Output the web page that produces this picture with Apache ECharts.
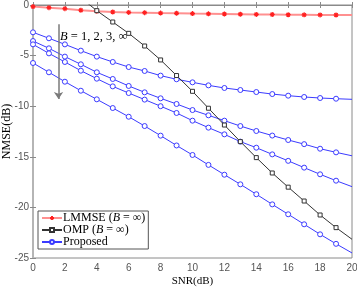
<!DOCTYPE html>
<html>
<head>
<meta charset="utf-8">
<script src="https://cdn.jsdelivr.net/npm/echarts@6/dist/echarts.min.js"></script>
<style>html,body{margin:0;padding:0;background:#fff}#c{width:357px;height:290px}</style>
</head>
<body>
<div id="c"></div>
<script>
// SNR (dB)
const snr = [0,1,2,3,4,5,6,7,8,9,10,11,12,13,14,15,16,17,18,19,20];
const xTicks = [0,2,4,6,8,10,12,14,16,18,20];
const yTicks = [0,-5,-10,-15,-20,-25];
// LMMSE (B = inf)
const lmmse = [-0.16,-0.26,-0.36,-0.52,-0.62,-0.69,-0.73,-0.76,-0.8,-0.82,-0.85,-0.87,-0.89,-0.91,-0.93,-0.94,-0.96,-0.97,-0.98,-0.99,-1.0];
// OMP (B = inf)
const omp = [4.2,3.0,1.8,0.72,-0.56,-1.68,-2.8,-4.05,-5.43,-6.97,-8.53,-10.2,-11.86,-13.5,-15.08,-16.6,-18.0,-19.37,-20.75,-22.0,-23.15];
// Proposed, B = 1, 2, 3, inf
const propB1 = [-2.7,-3.29,-3.89,-4.51,-5.1,-5.63,-6.13,-6.52,-6.98,-7.34,-7.64,-7.94,-8.2,-8.4,-8.6,-8.8,-8.96,-9.09,-9.19,-9.26,-9.32];
const propB2 = [-3.56,-4.28,-5.1,-5.86,-6.65,-7.31,-8.0,-8.63,-9.22,-9.78,-10.38,-10.9,-11.43,-11.96,-12.45,-12.9,-13.34,-13.75,-14.2,-14.56,-14.9];
const propB3 = [-3.89,-4.78,-5.63,-6.49,-7.28,-8.04,-8.7,-9.35,-10.0,-10.67,-11.43,-12.12,-12.78,-13.5,-14.1,-14.76,-15.4,-16.07,-16.73,-17.36,-17.95];
const propBinf = [-5.73,-6.65,-7.58,-8.47,-9.32,-10.18,-11.04,-11.96,-12.91,-13.88,-14.82,-15.8,-16.77,-17.72,-18.7,-19.7,-20.68,-21.67,-22.66,-23.6,-24.5];

function pts(vals){
  return snr.map((x,i)=> i===snr.length-1 ? {value:[x,vals[i]], symbol:'none'} : [x,vals[i]]);
}
const serif = '"Liberation Serif","DejaVu Serif",serif';
const sans = '"Liberation Sans",Arial,sans-serif';
const axisGray = '#8a8a8a';
const blue = '#3b3bff';
const asterisk = 'path://M5,0L5,10M0,5L10,5M1.5,1.5L8.5,8.5M8.5,1.5L1.5,8.5';

function blueSeries(vals){
  return {
    name:'Proposed', type:'line', data:pts(vals), clip:true,
    symbol:'circle', symbolSize:5, showSymbol:true,
    lineStyle:{color:blue,width:1},
    itemStyle:{color:'#ffffff',borderColor:blue,borderWidth:1},
    z:3
  };
}

const chart = echarts.init(document.getElementById('c'), null, {renderer:'canvas'});
const rich = {n:{fontFamily:serif,fontSize:12,color:'#000'}, i:{fontFamily:serif,fontSize:12,fontStyle:'italic',color:'#000'}};
chart.setOption({
  animation:false,
  backgroundColor:'#fff',
  grid:{left:33,right:5,top:5,bottom:32,show:true,borderColor:axisGray,borderWidth:1,outerBoundsMode:'none',containLabel:false},
  legend:{
    orient:'vertical', left:38, top:211,
    data:['LMMSE','OMP','Proposed'],
    backgroundColor:'#fff', borderColor:'#555', borderWidth:1,
    padding:[1,3,1,3], itemGap:0, itemWidth:20, itemHeight:5,
    textStyle:{fontFamily:serif,fontSize:12,color:'#000',padding:[0,0,0,-4],rich:rich},
    formatter:function(n){
      if(n==='LMMSE') return '{n|LMMSE (}{i|B}{n| = ∞)}';
      if(n==='OMP') return '{n|OMP (}{i|B}{n| = ∞)}';
      return '{n|Proposed}';
    }
  },
  xAxis:[{
    type:'value', min:0, max:20, interval:2,
    name:'SNR(dB)', nameLocation:'middle', nameGap:18, nameMoveOverlap:false,
    nameTextStyle:{fontFamily:serif,fontSize:11,color:'#000'},
    axisLine:{show:true,lineStyle:{color:axisGray}},
    axisTick:{show:true,inside:true,length:3,lineStyle:{color:axisGray}},
    axisLabel:{fontFamily:sans,fontSize:10,color:'#555',margin:5},
    splitLine:{show:false}
  },{
    type:'value', position:'top', min:0, max:20, interval:2,
    axisLine:{show:true,lineStyle:{color:axisGray}},
    axisTick:{show:true,inside:true,length:3,lineStyle:{color:axisGray}},
    axisLabel:{show:false}, splitLine:{show:false}
  }],
  yAxis:[{
    type:'value', min:-25, max:0, interval:5,
    name:'NMSE(dB)', nameLocation:'middle', nameGap:20, nameMoveOverlap:false,
    nameTextStyle:{fontFamily:serif,fontSize:12,color:'#000'},
    axisLine:{show:true,lineStyle:{color:axisGray}},
    axisTick:{show:true,inside:true,length:3,lineStyle:{color:axisGray}},
    axisLabel:{fontFamily:sans,fontSize:10,color:'#555',margin:4,formatter:function(v){return String(v);}},
    splitLine:{show:false}
  },{
    type:'value', position:'right', min:-25, max:0, interval:5,
    axisLine:{show:true,lineStyle:{color:'#b5b5b5',width:2}},
    axisTick:{show:true,inside:true,length:3,lineStyle:{color:axisGray}},
    axisLabel:{show:false}, splitLine:{show:false}
  }],
  series:[
    {
      name:'LMMSE', type:'line', data:pts(lmmse), clip:true,
      symbol:asterisk, symbolSize:5,
      lineStyle:{color:'#ff9090',width:2},
      itemStyle:{color:'#ff2020',borderColor:'#ff2020',borderWidth:1.2},
      z:4
    },
    {
      name:'OMP', type:'line', data:pts(omp), clip:true,
      symbol:'rect', symbolSize:4,
      lineStyle:{color:'#333',width:1},
      itemStyle:{color:'#ffffff',borderColor:'#333',borderWidth:1},
      z:5
    },
    Object.assign(blueSeries(propB1),{
      markLine:{
        silent:true, symbol:['none','arrow'], symbolSize:7,
        label:{show:false},
        lineStyle:{color:'#7a7a7a',width:1.5,type:'solid'},
        emphasis:{disabled:true},
        data:[[{coord:[1.6,-1.9],symbol:'none'},{coord:[1.6,-9.3],symbol:'arrow',symbolSize:7}]]
      }
    }),
    blueSeries(propB2),
    blueSeries(propB3),
    blueSeries(propBinf)
  ],
  graphic:[{
    type:'text', left:60, top:30,
    style:{
      text:'{i|B}{n| = 1, 2, 3, ∞}',
      rich:{n:{fontFamily:serif,fontSize:12.5,color:'#000'}, i:{fontFamily:serif,fontSize:12.5,fontStyle:'italic',color:'#000'}}
    }
  }]
});
</script>
</body>
</html>
